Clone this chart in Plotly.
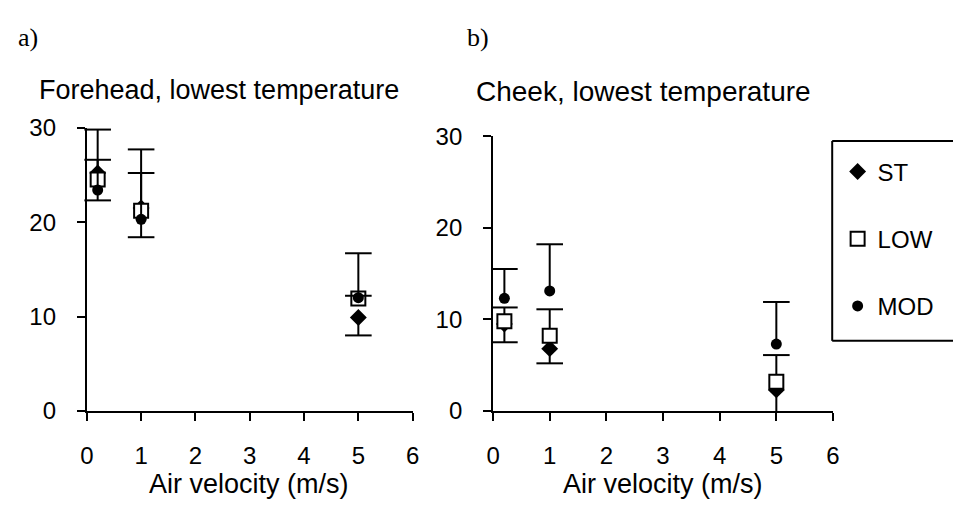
import plotly.graph_objects as go

# ---- data ----
velocity = [0.2, 1, 5]

# Forehead (panel a)
st_fore = [25.2, 21.5, 9.9]
st_fore_minus = [2.9, 3.1, 1.9]
low_fore = [24.5, 21.2, 11.9]
low_fore_plus = [2.1, 4.0, 0.3]
mod_fore = [23.4, 20.3, 12.0]
mod_fore_plus = [6.4, 7.4, 4.7]

# Cheek (panel b)
st_cheek = [9.5, 6.8, 2.3]
st_cheek_minus = [2.0, 1.6, 2.8]
low_cheek = [9.8, 8.2, 3.2]
low_cheek_plus = [1.5, 2.9, 2.9]
mod_cheek = [12.3, 13.1, 7.3]
mod_cheek_plus = [3.2, 5.1, 4.6]

series_names = ["ST", "LOW", "MOD"]
x_ticks = [0, 1, 2, 3, 4, 5, 6]
y_ticks = [0, 10, 20, 30]

FONT = "Arial"
BLACK = "black"

marker_styles = {
    "ST": dict(symbol="diamond", size=13, color=BLACK, line=dict(width=0)),
    "LOW": dict(symbol="square", size=14, color="white", line=dict(width=2, color=BLACK)),
    "MOD": dict(symbol="circle", size=11, color=BLACK, line=dict(width=0)),
}

fig = go.Figure()


def add_series(name, xs, ys, plus, minus, xa, ya, show):
    plus = plus if plus is not None else [0] * len(ys)
    minus = minus if minus is not None else [0] * len(ys)
    fig.add_trace(go.Scatter(
        x=xs, y=ys, mode="markers", name=name,
        legendgroup=name, showlegend=show,
        marker=marker_styles[name],
        error_y=dict(type="data", symmetric=False, array=plus, arrayminus=minus,
                     color=BLACK, thickness=2, width=0),
        cliponaxis=False, xaxis=xa, yaxis=ya,
    ))
    # caps at the end of each one-sided error bar
    cap_y = [y + p if p > 0 else y - m for y, p, m in zip(ys, plus, minus)]
    fig.add_trace(go.Scatter(
        x=xs, y=cap_y, mode="markers", showlegend=False, hoverinfo="skip",
        legendgroup=name,
        marker=dict(symbol="line-ew", size=19, line=dict(width=2, color=BLACK)),
        cliponaxis=False, xaxis=xa, yaxis=ya,
    ))


add_series("ST", velocity, st_fore, None, st_fore_minus, "x", "y", True)
add_series("LOW", velocity, low_fore, low_fore_plus, None, "x", "y", True)
add_series("MOD", velocity, mod_fore, mod_fore_plus, None, "x", "y", True)

add_series("ST", velocity, st_cheek, None, st_cheek_minus, "x2", "y2", False)
add_series("LOW", velocity, low_cheek, low_cheek_plus, None, "x2", "y2", False)
add_series("MOD", velocity, mod_cheek, mod_cheek_plus, None, "x2", "y2", False)

W, H = 953, 513

axis_common = dict(
    showline=True, linewidth=2, linecolor=BLACK, mirror=False,
    ticks="outside", ticklen=8, tickwidth=2, tickcolor=BLACK,
    showgrid=False, zeroline=False,
    tickfont=dict(family=FONT, size=24, color=BLACK),
)

LX0, LT, LB = 837.5 / W, (H - 134) / H, (H - 345) / H
box_line = dict(color=BLACK, width=2)

fig.update_layout(
    width=W, height=H,
    margin=dict(l=0, r=0, t=0, b=0),
    paper_bgcolor="white", plot_bgcolor="white",
    hovermode=False,
    xaxis=dict(domain=[81 / W, 411.7 / W], range=[0, 6], tickvals=x_ticks,
               anchor="y", ticklabelstandoff=14, **axis_common),
    yaxis=dict(domain=[94 / H, 393 / H], range=[0, 30], tickvals=y_ticks,
               anchor="x", ticklabelstandoff=16, **axis_common),
    xaxis2=dict(domain=[493.3 / W, 838.3 / W], range=[0, 6], tickvals=x_ticks,
                anchor="y2", ticklabelstandoff=14, **axis_common),
    yaxis2=dict(domain=[94 / H, 384 / H], range=[0, 30], tickvals=y_ticks,
                anchor="x2", ticklabelstandoff=16, **axis_common),
    showlegend=True,
    legend=dict(
        x=843 / W, y=(H - 143) / H, xanchor="left", yanchor="top",
        font=dict(family=FONT, size=24, color=BLACK),
        bgcolor="rgba(0,0,0,0)", borderwidth=0,
        tracegroupgap=33, itemwidth=30,
    ),
    shapes=[
        # legend frame, open on the right (cut by the figure edge)
        dict(type="line", xref="paper", yref="paper", x0=LX0, x1=1.02, y0=LT, y1=LT, line=box_line),
        dict(type="line", xref="paper", yref="paper", x0=LX0, x1=1.02, y0=LB, y1=LB, line=box_line),
        dict(type="line", xref="paper", yref="paper", x0=LX0, x1=LX0, y0=LB, y1=LT, line=box_line),
    ],
    annotations=[
        dict(text="a)", x=9 / W, y=(H - 25) / H, xref="paper", yref="paper",
             xanchor="left", yanchor="middle", showarrow=False,
             font=dict(family="Liberation Serif", size=26, color=BLACK)),
        dict(text="b)", x=465 / W, y=(H - 25) / H, xref="paper", yref="paper",
             xanchor="left", yanchor="middle", showarrow=False,
             font=dict(family="Liberation Serif", size=26, color=BLACK)),
        dict(text="Forehead, lowest temperature", x=30 / W, y=(H - 80) / H,
             xref="paper", yref="paper", xanchor="left", yanchor="middle",
             showarrow=False, font=dict(family=FONT, size=27, color=BLACK)),
        dict(text="Cheek, lowest temperature", x=474 / W, y=(H - 82) / H,
             xref="paper", yref="paper", xanchor="left", yanchor="middle",
             showarrow=False, font=dict(family=FONT, size=28, color=BLACK)),
        dict(text="Air velocity (m/s)", x=246 / W, y=(H - 496) / H,
             xref="paper", yref="paper", xanchor="center", yanchor="middle",
             showarrow=False, font=dict(family=FONT, size=27, color=BLACK)),
        dict(text="Air velocity (m/s)", x=666 / W, y=(H - 496) / H,
             xref="paper", yref="paper", xanchor="center", yanchor="middle",
             showarrow=False, font=dict(family=FONT, size=27, color=BLACK)),
    ],
)

fig.write_html(
    "out.html",
    config={"displayModeBar": False, "staticPlot": True},
    post_script=(
        "document.documentElement.style.margin='0';"
        "document.documentElement.style.overflow='hidden';"
        "document.body.style.margin='0';document.body.style.overflow='hidden';"
    ),
)
